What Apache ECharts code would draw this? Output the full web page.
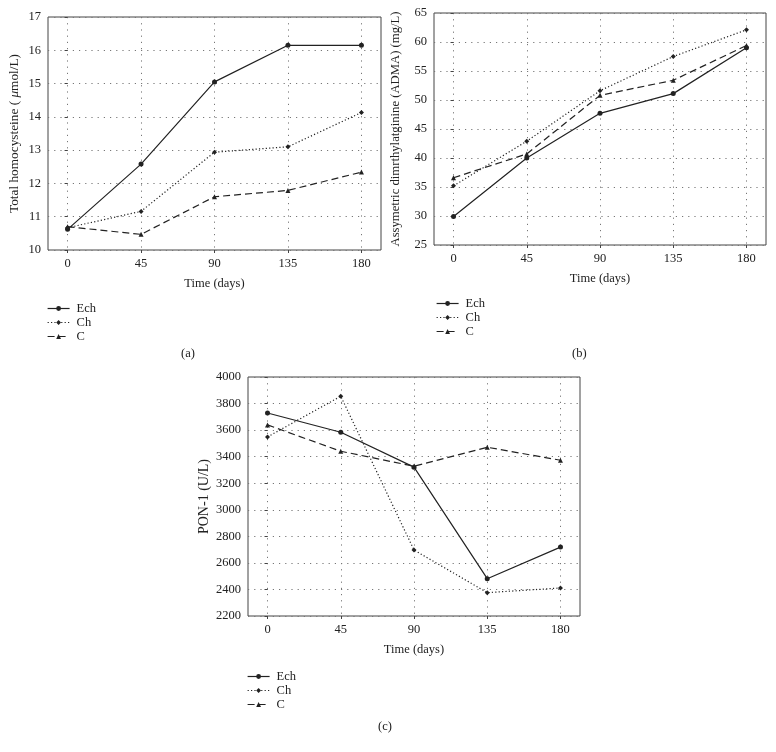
<!DOCTYPE html>
<html><head><meta charset="utf-8">
<script src="https://cdn.jsdelivr.net/npm/echarts@6/dist/echarts.min.js"></script>
<style>html,body{margin:0;padding:0;background:#fff}#c{width:776px;height:752px}</style>
</head><body><div id="c"></div>
<script>
const days = [0, 45, 90, 135, 180];
const seriesNames = ['Ech', 'Ch', 'C'];
const hcyEch = [10.62, 12.58, 15.05, 16.15, 16.15];
const hcyCh  = [10.67, 11.16, 12.94, 13.10, 14.13];
const hcyC   = [10.70, 10.47, 11.60, 11.79, 12.34];
const admaEch = [29.9, 40.0, 47.7, 51.1, 59.0];
const admaCh  = [35.2, 42.9, 51.6, 57.5, 62.1];
const admaC   = [36.6, 40.7, 50.8, 53.4, 59.4];
const ponEch = [3729, 3584, 3321, 2481, 2719];
const ponCh  = [3549, 3855, 2697, 2376, 2411];
const ponC   = [3639, 3441, 3328, 3471, 3373];
const xTitle = 'Time (days)';
const yTitles = ['{n|Total homocysteine ( }{i|μ}{n|mol/L)}', 'Assymetric dimrthylatginine (ADMA) (mg/L)', 'PON-1 (U/L)'];

const FONT = 'Liberation Serif';
const INK = '#222';
const FS = 12.5;
const chart = echarts.init(document.getElementById('c'));

const grids = [
  {left: 48, top: 17, width: 333, height: 233},
  {left: 434, top: 13, width: 332, height: 232},
  {left: 248, top: 377, width: 332, height: 239}
];
const yRanges = [[10, 17, 1], [25, 65, 5], [2200, 4000, 200]];
const yNameGaps = [27, 32, 37];
const yNameSizes = [13.3, 12.7, 14];
const panels = [[hcyEch, hcyCh, hcyC], [admaEch, admaCh, admaC], [ponEch, ponCh, ponC]];

const lineStyles = [
  {type: 'solid', width: 1.2},
  {type: [1.2, 2.2], width: 1.2},
  {type: [7, 4], width: 1.2}
];
const symbols = ['circle', 'diamond', 'triangle'];
const symbolSizes = [5, 5, 5];

const option = {
  backgroundColor: '#fff',
  animation: false,
  textStyle: {fontFamily: FONT, color: INK},
  grid: grids.map(g => Object.assign({show: true, borderColor: '#444', borderWidth: 1, backgroundColor: 'transparent'}, g)),
  xAxis: grids.map((g, i) => ({
    type: 'value', gridIndex: i, min: -12, max: 192,
    name: xTitle, nameLocation: 'middle', nameGap: 27,
    nameTextStyle: {fontFamily: FONT, fontSize: FS, color: INK},
    axisLine: {show: false},
    axisTick: {show: true, length: 3, customValues: days, lineStyle: {color: '#444'}},
    axisLabel: {customValues: days, fontFamily: FONT, fontSize: FS, color: INK, margin: 7},
    splitLine: {show: true, lineStyle: {color: '#777', type: [1.2, 5], width: 1}}
  })),
  yAxis: grids.map((g, i) => ({
    type: 'value', gridIndex: i, min: yRanges[i][0], max: yRanges[i][1], interval: yRanges[i][2],
    name: yTitles[i], nameLocation: 'middle', nameRotate: 90, nameGap: yNameGaps[i],
    nameTextStyle: {fontFamily: FONT, fontSize: yNameSizes[i], color: INK,
      rich: {n: {fontFamily: FONT, fontSize: yNameSizes[i], color: INK}, i: {fontFamily: FONT, fontSize: yNameSizes[i], color: INK, fontStyle: 'italic'}}},
    axisLine: {show: false},
    axisTick: {show: true, length: 3, lineStyle: {color: '#444'}},
    axisLabel: {fontFamily: FONT, fontSize: FS, color: INK, margin: 7, formatter: v => String(v)},
    splitLine: {show: true, lineStyle: {color: '#777', type: [1.2, 5], width: 1}}
  })),
  legend: [
    {left: 47, top: 302},
    {left: 436, top: 297},
    {left: 247, top: 670}
  ].map(p => Object.assign({
    orient: 'vertical', itemWidth: 22, itemHeight: 6, itemGap: 1,
    data: seriesNames,
    lineStyle: {width: 1.2},
    textStyle: {fontFamily: FONT, fontSize: FS, color: INK, lineHeight: 13, padding: [0, 0, 0, 2]},
    padding: 0
  }, p)),
  graphic: [
    {type: 'text', left: 181, top: 347, style: {text: '(a)', font: '12.5px "Liberation Serif"', fill: INK}},
    {type: 'text', left: 572, top: 347, style: {text: '(b)', font: '12.5px "Liberation Serif"', fill: INK}},
    {type: 'text', left: 378, top: 720, style: {text: '(c)', font: '12.5px "Liberation Serif"', fill: INK}}
  ],
  series: []
};

panels.forEach((vals, p) => {
  vals.forEach((arr, s) => {
    option.series.push({
      type: 'line', name: seriesNames[s], xAxisIndex: p, yAxisIndex: p,
      data: days.map((d, k) => [d, arr[k]]),
      symbol: symbols[s], symbolSize: symbolSizes[s], showSymbol: true,
      lineStyle: Object.assign({color: INK}, lineStyles[s]),
      itemStyle: {color: INK},
      z: 5 - s
    });
  });
});

chart.setOption(option);
</script></body></html>
